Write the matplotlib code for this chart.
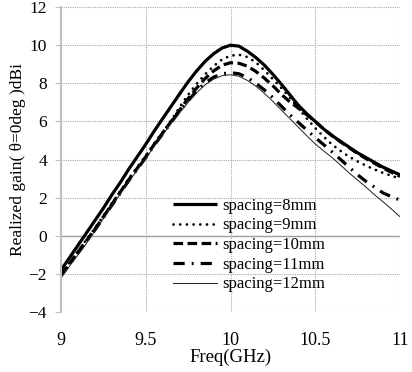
import numpy as np
import matplotlib
matplotlib.use("Agg")
import matplotlib.pyplot as plt

plt.rcParams['font.family'] = ['Liberation Serif', 'DejaVu Serif']

freq = [round(9.0 + 0.05 * i, 2) for i in range(41)]

g8 = [-1.8, -1.15, -0.5, 0.15, 0.8, 1.45, 2.15, 2.8, 3.5, 4.15,
      4.8, 5.5, 6.15, 6.8, 7.45, 8.08, 8.65, 9.15, 9.55, 9.85,
      10.0, 9.95, 9.68, 9.35, 8.95, 8.47, 7.95, 7.4, 6.85, 6.4,
      6.0, 5.6, 5.25, 4.95, 4.65, 4.35, 4.1, 3.85, 3.6, 3.4, 3.2]
g9 = [-2.0, -1.4, -0.8, -0.2, 0.4, 1.05, 1.7, 2.35, 3.0, 3.6,
      4.2, 4.85, 5.45, 6.05, 6.75, 7.4, 7.97, 8.47, 8.9, 9.25,
      9.45, 9.5, 9.38, 9.1, 8.68, 8.22, 7.75, 7.25, 6.7, 6.15,
      5.65, 5.2, 4.78, 4.45, 4.15, 3.9, 3.68, 3.48, 3.3, 3.15, 3.0]
g10 = [-2.05, -1.45, -0.85, -0.25, 0.35, 1.0, 1.65, 2.3, 2.95, 3.55,
       4.15, 4.8, 5.4, 6.0, 6.6, 7.2, 7.75, 8.25, 8.65, 8.95,
       9.08, 9.05, 8.9, 8.62, 8.27, 7.87, 7.42, 7.03, 6.7, 6.35,
       6.0, 5.6, 5.25, 4.92, 4.62, 4.32, 4.05, 3.8, 3.55, 3.33, 3.12]
g11 = [-2.1, -1.5, -0.9, -0.3, 0.3, 0.95, 1.6, 2.25, 2.9, 3.5,
       4.1, 4.75, 5.35, 5.95, 6.55, 7.1, 7.6, 8.02, 8.32, 8.5,
       8.56, 8.5, 8.3, 8.0, 7.65, 7.25, 6.8, 6.35, 5.95, 5.55,
       5.15, 4.78, 4.4, 4.0, 3.6, 3.2, 2.85, 2.55, 2.25, 2.05, 1.88]
g12 = [-2.2, -1.6, -1.0, -0.4, 0.25, 0.9, 1.55, 2.2, 2.85, 3.45,
       4.05, 4.7, 5.3, 5.9, 6.45, 7.0, 7.5, 7.92, 8.22, 8.4,
       8.45, 8.37, 8.15, 7.85, 7.47, 7.05, 6.6, 6.15, 5.7, 5.25,
       4.82, 4.45, 4.1, 3.7, 3.3, 2.92, 2.55, 2.15, 1.78, 1.4, 1.0]

labels = ['spacing=8mm', 'spacing=9mm', 'spacing=10mm', 'spacing=11mm', 'spacing=12mm']
xticks = [9, 9.5, 10, 10.5, 11]
xticklabels = ['9', '9.5', '10', '10.5', '11']
yticks = [-4, -2, 0, 2, 4, 6, 8, 10, 12]

fig = plt.figure(figsize=(4.12, 3.72), dpi=100)
ax = fig.add_axes([0.148, 0.161, 0.823, 0.820])

ax.plot(freq, g8, color='black', lw=2.3, solid_capstyle='butt', label=labels[0])
ax.plot(freq, g9, color='black', lw=2.0, linestyle=(0, (0.01, 2.4)), dash_capstyle='round', label=labels[1])
ax.plot(freq, g10, color='black', lw=2.3, linestyle=(0, (3.0, 1.4)), label=labels[2])
ax.plot(freq, g11, color='black', lw=2.3, linestyle=(0, (3.5, 2.2, 0.6, 2.2)), label=labels[3])
ax.plot(freq, g12, color='#202020', lw=0.7, label=labels[4])

ax.set_xlim(9, 11)
ax.set_ylim(-4, 12)
ax.set_xticks(xticks)
ax.set_xticklabels(xticklabels)
ax.set_yticks(yticks)
ax.grid(True, color='#a8a8a8', linestyle=(0, (1, 1)), lw=0.8)
ax.set_axisbelow(True)
ax.axhline(0, color='#a0a0a0', lw=1.0, zorder=1)

for s in ['top', 'right', 'bottom']:
    ax.spines[s].set_visible(False)
ax.spines['left'].set_color('#c0c0c0')
ax.spines['left'].set_linewidth(1.5)
ax.tick_params(axis='y', length=4, color='#c0c0c0', labelsize=12.5, pad=6)
ax.tick_params(axis='x', length=0, labelsize=13, pad=14)

ax.set_xlabel('Freq(GHz)', fontsize=13.5, labelpad=0)
ax.set_ylabel('Realized gain( θ=0deg )dBi', fontsize=12.5, labelpad=2)

leg = ax.legend(loc='upper left', bbox_to_anchor=(0.31, 0.397), frameon=False,
                fontsize=12, handlelength=2.65, handletextpad=0.3,
                labelspacing=0.22, borderaxespad=0)

fig.savefig('out.png', dpi=100)
